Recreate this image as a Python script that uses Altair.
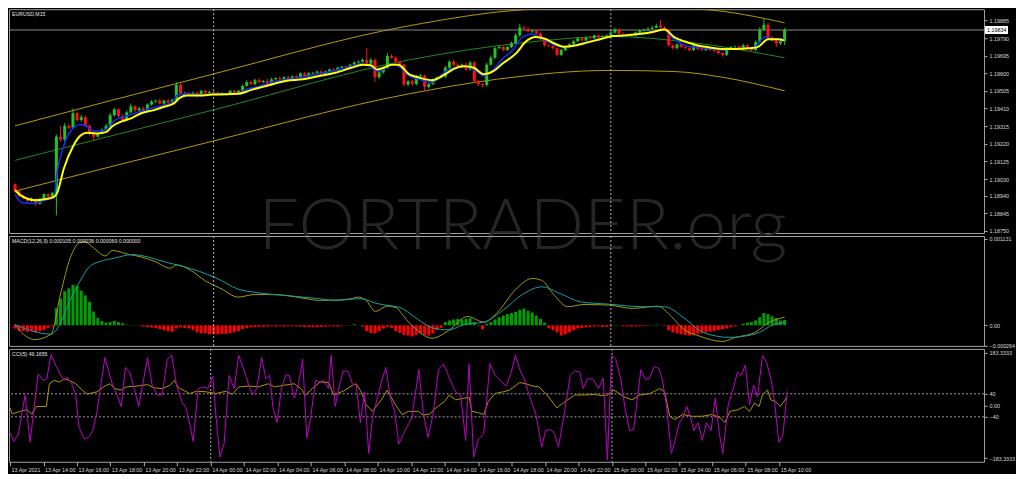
import altair as alt
import pandas as pd

W = 976
H_PRICE, H_MACD, H_CCI = 224, 110, 113
X_DOMAIN = [-0.25, 233]
FONT = "Liberation Sans, Arial, sans-serif"
LABEL = "#d8d8d8"
AX_FS = 5.4
TITLE_FS = 5.2

# ---------------- price (points above 1.18000, one M15 bar each) ----------------
closes = [
    965, 939, 928, 913, 923, 897, 923, 949, 934, 955,
    1259, 1243, 1317, 1306, 1385, 1348, 1364, 1317, 1275, 1259,
    1275, 1296, 1317, 1374, 1406, 1369, 1348, 1390, 1422, 1401,
    1411, 1401, 1432, 1448, 1453, 1437, 1453, 1443, 1458, 1537,
    1490, 1495, 1485, 1495, 1479, 1506, 1495, 1500, 1490, 1495,
    1485, 1490, 1506, 1495, 1506, 1532, 1553, 1542, 1563, 1553,
    1558, 1537, 1568, 1574, 1568, 1579, 1568, 1584, 1579, 1600,
    1584, 1600, 1603, 1610, 1595, 1610, 1621, 1616, 1631, 1637,
    1631, 1647, 1658, 1663, 1673, 1652, 1673, 1579, 1605, 1631,
    1694, 1684, 1663, 1647, 1540, 1558, 1542, 1584, 1589, 1527,
    1542, 1568, 1579, 1582, 1631, 1663, 1647, 1637, 1647, 1621,
    1658, 1558, 1542, 1537, 1647, 1684, 1736, 1742, 1726, 1742,
    1763, 1805, 1847, 1841, 1826, 1831, 1815, 1784, 1752, 1747,
    1736, 1700, 1726, 1742, 1757, 1773, 1789, 1778, 1794, 1789,
    1805, 1794, 1799, 1805, 1820, 1836, 1815, 1805, 1810, 1805,
    1820, 1831, 1836, 1841, 1847, 1857, 1847, 1836, 1752, 1736,
    1757, 1742, 1736, 1726, 1747, 1731, 1726, 1736, 1726, 1721,
    1710, 1700, 1731, 1742, 1745, 1731, 1752, 1736, 1726, 1768,
    1836, 1862, 1794, 1778, 1763, 1773, 1834]
opens = [
    1002, 965, 939, 928, 913, 923, 897, 923, 949, 934,
    955, 1259, 1243, 1317, 1306, 1385, 1348, 1364, 1317, 1275,
    1259, 1275, 1296, 1317, 1374, 1406, 1369, 1348, 1390, 1422,
    1401, 1411, 1401, 1432, 1448, 1453, 1437, 1453, 1443, 1458,
    1537, 1490, 1495, 1485, 1495, 1479, 1506, 1495, 1500, 1490,
    1495, 1485, 1490, 1506, 1495, 1506, 1532, 1553, 1542, 1563,
    1553, 1558, 1537, 1568, 1574, 1568, 1579, 1568, 1584, 1579,
    1600, 1584, 1600, 1603, 1610, 1595, 1610, 1621, 1616, 1631,
    1637, 1631, 1647, 1658, 1663, 1673, 1652, 1673, 1579, 1605,
    1631, 1694, 1684, 1663, 1647, 1540, 1558, 1542, 1584, 1589,
    1527, 1542, 1568, 1579, 1582, 1631, 1663, 1647, 1637, 1647,
    1621, 1658, 1558, 1542, 1537, 1647, 1684, 1736, 1742, 1726,
    1742, 1763, 1805, 1847, 1841, 1826, 1831, 1815, 1784, 1752,
    1747, 1736, 1700, 1726, 1742, 1757, 1773, 1789, 1778, 1794,
    1789, 1805, 1794, 1799, 1805, 1820, 1836, 1815, 1805, 1810,
    1805, 1820, 1831, 1836, 1841, 1847, 1857, 1847, 1836, 1752,
    1736, 1757, 1742, 1736, 1726, 1747, 1731, 1726, 1736, 1726,
    1721, 1710, 1700, 1731, 1742, 1745, 1731, 1752, 1736, 1726,
    1768, 1836, 1862, 1794, 1778, 1763, 1773]
upper_wicks = [
    5, 4, 6, 3, 8, 4, 6, 5, 4, 6,
    10, 60, 15, 10, 26, 9, 12, 6, 5, 8,
    6, 8, 10, 12, 8, 6, 10, 8, 15, 6,
    8, 10, 6, 8, 5, 10, 6, 8, 5, 16,
    5, 6, 4, 8, 6, 5, 4, 6, 4, 5,
    5, 4, 6, 4, 5, 8, 10, 8, 8, 10,
    6, 12, 8, 6, 10, 6, 8, 6, 8, 5,
    6, 8, 5, 6, 8, 6, 5, 8, 6, 5,
    6, 5, 8, 6, 8, 63, 10, 6, 8, 6,
    16, 10, 8, 6, 5, 6, 8, 8, 6, 5,
    6, 5, 6, 8, 10, 8, 10, 8, 6, 12,
    10, 8, 5, 6, 10, 12, 8, 10, 6, 5,
    8, 12, 21, 10, 8, 6, 5, 6, 5, 4,
    5, 4, 6, 5, 6, 5, 6, 5, 4, 6,
    5, 4, 6, 5, 8, 10, 6, 5, 4, 5,
    6, 5, 6, 8, 10, 12, 31, 8, 6, 5,
    4, 5, 4, 5, 6, 4, 5, 4, 5, 4,
    5, 4, 6, 5, 4, 5, 8, 5, 4, 10,
    12, 37, 10, 6, 5, 6, 10]
lower_wicks = [
    8, 6, 8, 10, 6, 12, 5, 6, 8, 10,
    121, 12, 10, 8, 6, 10, 8, 6, 10, 21,
    6, 5, 6, 5, 8, 6, 8, 5, 6, 10,
    6, 8, 5, 6, 8, 5, 6, 5, 8, 5,
    8, 6, 5, 6, 10, 5, 6, 4, 6, 5,
    6, 5, 4, 5, 4, 6, 5, 6, 5, 6,
    5, 8, 5, 6, 5, 6, 8, 5, 6, 5,
    8, 5, 6, 5, 8, 6, 5, 6, 5, 6,
    5, 6, 5, 6, 5, 8, 6, 26, 8, 6,
    6, 5, 8, 6, 11, 10, 8, 6, 5, 21,
    8, 6, 5, 6, 5, 6, 8, 6, 5, 8,
    6, 10, 10, 12, 8, 5, 6, 5, 8, 5,
    6, 5, 8, 6, 5, 8, 6, 5, 8, 6,
    8, 10, 6, 5, 4, 5, 4, 6, 5, 4,
    5, 6, 4, 5, 4, 5, 8, 6, 5, 6,
    5, 4, 5, 4, 5, 4, 5, 6, 10, 8,
    6, 5, 8, 6, 5, 6, 5, 6, 5, 6,
    8, 10, 6, 5, 6, 5, 6, 5, 6, 5,
    6, 5, 8, 6, 20, 10, 20]

# moving averages / channel (bar position, points above 1.18000)
blue_bar = [0, 1.6, 4.8, 7.1, 9.4, 10.2, 11.8, 14.1, 15.7, 17.3, 18.8, 21.2, 22.7, 24.3, 26.6, 29.0, 31.3, 33.6, 36.0, 38.3,
            39.1, 41.5, 44.6, 47.7, 50.8, 54.0, 55.5, 58.6, 61.8, 65.7, 69.6, 73.5, 77.4, 81.3, 83.6, 85.2, 86.7, 88.3, 89.9, 91.4,
            93.0, 95.3, 97.7, 100.8, 103.1, 105.5, 108.6, 110.9, 113.3, 115.6, 118.0, 120.3, 122.6, 125.0, 127.3, 129.7, 132.0,
            135.1, 138.2, 141.4, 144.5, 147.6, 150.7, 153.9, 157.0, 158.6, 160.9, 163.2, 167.1, 171.0, 172.6, 175.7, 178.8,
            181.2, 183.5, 185.9]
blue_pts = [948, 904, 898, 916, 930, 1070, 1210, 1306, 1324, 1315, 1289, 1289, 1315, 1350, 1367, 1385, 1402, 1416, 1428, 1451,
            1481, 1490, 1484, 1490, 1490, 1493, 1511, 1528, 1551, 1568, 1581, 1598, 1616, 1638, 1652, 1647, 1621, 1612, 1638, 1652,
            1634, 1586, 1568, 1551, 1595, 1626, 1638, 1621, 1586, 1621, 1682, 1726, 1796, 1813, 1787, 1761, 1743,
            1752, 1770, 1784, 1801, 1808, 1813, 1826, 1836, 1796, 1761, 1743, 1735, 1726, 1731, 1735, 1743,
            1796, 1787, 1787]
yellow_bar = [0, 1.6, 4.8, 7.1, 9.4, 10.2, 11.8, 14.1, 15.7, 17.3, 19.6, 22.0, 23.5, 25.8, 28.2, 30.5, 33.6, 36.0, 38.3, 39.9,
              41.5, 44.6, 47.7, 54.0, 57.1, 61.8, 65.7, 69.6, 73.5, 77.4, 81.3, 84.0, 86.0, 87.5, 89.1, 91.0, 92.6, 95.3, 97.7,
              100.8, 103.9, 106.2, 108.6, 110.9, 113.3, 115.6, 118.0, 121.1, 123.4, 125.8, 128.1, 130.4, 132.8, 135.1, 138.2,
              141.4, 144.5, 147.6, 150.7, 153.9, 157.0, 159.3, 161.7, 164.8, 167.9, 171.0, 174.2, 177.3, 179.6, 182.0, 184.3, 185.9]
yellow_pts = [970, 939, 916, 921, 934, 956, 1087, 1210, 1262, 1280, 1276, 1283, 1315, 1341, 1359, 1385, 1402, 1420, 1437, 1469,
              1481, 1481, 1486, 1490, 1511, 1539, 1560, 1568, 1586, 1603, 1630, 1647, 1644, 1621, 1630, 1647, 1647, 1595, 1577,
              1563, 1595, 1626, 1638, 1630, 1595, 1612, 1656, 1708, 1770, 1796, 1787, 1761, 1743, 1749, 1766,
              1784, 1801, 1805, 1812, 1822, 1836, 1796, 1773, 1752, 1740, 1731, 1731, 1735, 1743, 1784, 1784, 1778]
chan_up_bar = [0, 46.1, 95.3, 121, 144.5, 166.7, 186]
chan_up_pts = [1317, 1586, 1857, 1940, 1960, 1944, 1873]
chan_lo_bar = [0, 46.1, 95.3, 116.4, 143.8, 159.3, 171, 186]
chan_lo_pts = [965, 1225, 1490, 1568, 1616, 1610, 1579, 1506]
chan_mid_bar = [0, 48.5, 95.3, 124, 143.8, 163, 186]
chan_mid_pts = [1131, 1406, 1673, 1768, 1799, 1768, 1684]

# ---------------- MACD (millionths) ----------------
macd_hist = [
    -42, -76, -76, -84, -76, -93, -76, -63, -34, -13,
    223, 349, 446, 484, 530, 518, 455, 392, 307, 181,
    97, 55, 34, 42, 59, 42, 25, 8, 4, 4,
    -4, -17, -21, -29, -34, -51, -63, -76, -84, -42,
    -25, -34, -42, -63, -93, -105, -105, -118, -118, -118,
    -114, -114, -105, -93, -76, -51, -34, -25, -25, -21,
    -21, -17, -13, -17, -13, -17, -13, -13, -13, -17,
    -21, -21, -25, -25, -21, -17, -13, -13, -17, -8,
    -4, 4, 13, 4, -17, -76, -101, -105, -76, -42,
    -21, -34, -76, -101, -126, -135, -147, -126, -105, -126,
    -135, -105, -63, -34, 42, 63, 76, 84, 76, 84,
    93, 42, -8, -51, 21, 42, 76, 105, 126, 147,
    160, 177, 202, 219, 189, 168, 126, 84, 34, -34,
    -63, -93, -135, -118, -93, -63, -42, -34, -25, -21,
    -17, -13, -21, -21, -17, 4, 4, -13, -13, -17,
    -13, -13, -8, -8, 4, 8, 4, -8, -63, -93,
    -105, -118, -126, -135, -126, -109, -101, -93, -84, -76,
    -63, -51, -42, -25, -13, -4, 21, 34, 42, 63,
    105, 160, 147, 118, 93, 63, 69]
macd_bar = [0, 1.6, 4.8, 8.7, 11, 13.3, 15.7, 16.9, 18.8, 21.9, 23.5, 27.4, 30.5, 33.6, 37.6, 39.1, 42.2, 46.1, 50, 53.9,
            57.8, 61.8, 65.7, 70.3, 73.5, 77.4, 81.3, 82.8, 84.8, 87.1, 89.9, 92.2, 93.5, 95.3, 96.1, 100.8, 104.7, 109.4,
            113.3, 116.4, 121.1, 125, 127.3, 130.4, 133.6, 137.5, 143.7, 149.2, 155.4, 158.6, 161.7, 165.6, 171, 174.2,
            178.8, 182, 186]
macd_main = [10, -95, -187, -116, 410, 875, 1085, 1093, 1021, 908, 980, 929, 895, 840, 748, 790, 727, 579, 474, 369,
             402, 402, 389, 348, 326, 330, 348, 369, 330, 180, 250, 230, 150, 30, -10, -170, -73, 116,
             40, 158, 474, 613, 588, 389, 243, 272, 263, 221, 250, 116, -53, -145, -212, -158,
             -95, 32, 105]
signal_bar = [0, 4, 8.7, 11, 13.3, 15.7, 18, 20.4, 24.3, 28.2, 32.1, 36, 40.7, 44.6, 48.5, 53.9, 57.8, 65.7, 73.5, 77.4,
              83.6, 87.5, 91.4, 93, 96.9, 100.8, 104.7, 108.6, 113.3, 118, 122.6, 127.3, 132, 136.7, 143.7, 151.5, 157,
              161.7, 166.4, 172.6, 178.8, 183.5, 186]
signal_vals = [10, -73, -116, 32, 326, 579, 769, 832, 882, 925, 895, 832, 769, 705, 622, 474, 432, 389, 348, 326,
               348, 284, 250, 234, 95, -32, -60, 10, 40, 200, 402, 503, 410, 306, 276, 243, 243,
               95, -95, -158, -116, 10, 36]

# ---------------- CCI(5) ----------------
cci_bar = [0, 0.9, 2.0, 3.6, 4.8, 6.7, 7.9, 8.8, 9.8, 11.0, 12.2, 13.0, 13.7, 14.9, 15.7, 16.5, 17.8, 18.8, 19.8, 20.8,
           22.7, 24.3, 25.6, 26.6, 27.6, 28.6, 29.7, 30.8, 32.9, 34.0, 35.2, 36.4, 37.6, 38.7, 39.9, 41.1, 42.1, 43.0, 43.8, 45.0,
           46.1, 47.3, 48.5, 49.3, 50.2, 51.2, 52.4, 53.6, 54.7, 55.9, 57.1, 58.0, 59.0, 60.2, 61.2, 62.1, 62.9, 63.9, 64.9, 66.0,
           66.8, 68.0, 69.0, 70.0, 71.0, 71.9, 73.1, 74.2, 75.0, 76.2, 76.8, 77.8, 78.8, 79.7, 80.9, 81.9, 82.8, 83.8, 84.8, 85.8,
           86.7, 88.7, 89.9, 91.0, 92.0, 93.0, 94.5, 96.1, 97.8, 98.8, 100.0, 101.2, 102.5, 103.7, 105.5, 106.6, 107.8, 109.0,
           109.8, 110.9, 112.1, 113.3, 114.8, 116.0, 118.7, 119.9, 120.9, 121.9, 123.0, 124.2, 125.8, 127.2, 128.1, 129.3,
           130.3, 131.2, 132.4, 134.0, 135.1, 136.3, 137.1, 138.1, 139.4, 140.8, 141.9, 142.9, 143.9, 144.9, 146.1, 147.1,
           148.2, 149.2, 150.9, 151.9, 152.9, 154.1, 155.2, 156.0, 157.0, 158.2, 158.9, 160.1, 160.9, 161.9, 162.8, 163.6,
           164.6, 165.6, 166.6, 167.7, 168.7, 169.7, 170.5, 171.8, 173.0, 174.0, 174.9, 175.9, 176.9, 177.9, 178.8, 180.0,
           181.0, 182.0, 182.9, 183.9, 184.9, 185.9]
cci_vals = [-94, -125, -100, 36, -128, 109, 87, 92, 177, 137, 104, 87, 98, 70, 36, -77, -117, -111, -88, -21,
            166, 81, 36, -4, 132, 115, 58, -4, 166, 70, 36, 36, 160, 173, 64, 13, -9, -66, -125, 58,
            64, 58, 101, -43, -180, -134, 104, 58, 173, 126, 70, 36, 58, 166, 92, 104, -9, -60, 58, 106,
            104, 25, 75, 160, -113, -43, 87, 81, 87, 58, 173, -4, 70, 120, 117, 75, 70, -60, 47, -167,
            -43, 75, 132, 25, -21, -134, -88, -43, 124, -21, -111, -32, 126, 143, 81, 47, 36, -122,
            143, -180, -117, -100, 145, 104, 67, 115, 175, 126, 92, 36, -32, -145, -88, -83,
            -100, -145, -43, 104, 120, 115, 58, 92, 92, 58, 95, -190, 173, 160, 92, -9,
            -88, -83, 124, 92, 92, 135, 128, 92, 2, -167, -134, -60, -43, -4, -43, -88,
            -60, -122, -60, -88, 25, -100, -167, 2, 58, 115, 104, 140, 2, 70, 30, 173,
            149, 92, 13, -128, -105, 49]
cci_ma_bar = [0, 0.5, 2.4, 4.0, 5.2, 6.3, 8.7, 9.4, 10.6, 11.8, 13.0, 14.1, 15.7, 17.3, 18.4, 20.8, 22.7, 23.9, 25.1, 26.6,
              27.8, 30.5, 32.9, 34.4, 36.4, 38.3, 39.3, 40.3, 43.0, 44.6, 46.9, 49.3, 51.6, 53.2, 54.7, 57.1, 59.4, 61.8, 63.3, 65.7,
              68.0, 69.6, 70.7, 72.3, 74.2, 76.2, 77.4, 79.7, 82.0, 82.8, 84.0, 85.2, 86.7, 89.1, 90.2, 92.2, 93.8, 95.3, 97.7, 98.8,
              100.4, 102.3, 103.9, 105.1, 106.6, 108.6, 109.8, 110.5, 112.1, 113.3, 114.4, 116.0, 118.0, 119.5, 121.9, 123.4,
              125.0, 126.5, 128.5, 130.8, 132.8, 135.1, 137.5, 139.8, 141.4, 142.9, 144.5, 146.8, 148.8, 150.7, 153.1, 155.4,
              156.6, 157.8, 159.0, 160.9, 163.2, 165.6, 167.9, 169.9, 171.0, 172.2, 174.2, 175.7, 176.9, 178.1, 179.2, 180.0,
              181.2, 182.0, 183.1, 184.3, 185.9]
cci_ma_vals = [-9, -30, -21, -15, -30, -4, -4, 75, 87, 81, 92, 87, 75, 53, 39, 47, 67, 75, 58, 53,
               64, 67, 72, 61, 58, 70, 87, 61, 41, 49, 47, 41, 49, 38, 64, 67, 64, 75, 64, 70,
               75, 58, 36, 58, 81, 79, 36, 49, 70, 75, 47, 2, -21, 25, 53, 2, -32, -21, -21, -34,
               -30, -4, 13, 36, 19, 25, 28, -21, -26, -32, 13, 41, 47, 53, 79, 75,
               67, 64, 36, -9, 13, 36, 36, 38, 34, 36, 53, 30, 19, 36, 41, 58,
               47, -38, -49, -32, -38, -38, -32, -43, -60, -21, -15, -4, -21, 8, -4, 36,
               53, 19, 13, -4, 30]

# ---------------- labels ----------------
price_ticks = [1.18750, 1.18845, 1.18940, 1.19030, 1.19125, 1.19220, 1.19315, 1.19410,
               1.19505, 1.19600, 1.19695, 1.19790, 1.19885]
macd_ticks = [0.001131, 0.0, -0.000264]
cci_ticks = [183.3333, 40, 0, -40, -183.3333]
cci_levels = [40, -40]
time_labels = ["13 Apr 2021", "13 Apr 14:00", "13 Apr 16:00", "13 Apr 18:00", "13 Apr 20:00", "13 Apr 22:00",
               "14 Apr 00:00", "14 Apr 02:00", "14 Apr 04:00", "14 Apr 06:00", "14 Apr 08:00", "14 Apr 10:00",
               "14 Apr 12:00", "14 Apr 14:00", "14 Apr 16:00", "14 Apr 18:00", "14 Apr 20:00", "14 Apr 22:00",
               "15 Apr 00:00", "15 Apr 02:00", "15 Apr 04:00", "15 Apr 06:00", "15 Apr 08:00", "15 Apr 10:00"]
session_breaks = [48, 144]
current_price = 1.19834

# ---------------- data frames ----------------
BASE = 1.18
candles = pd.DataFrame({
    "bar": list(range(len(closes))),
    "open": [BASE + v / 1e5 for v in opens],
    "close": [BASE + v / 1e5 for v in closes],
    "high": [BASE + (max(o, c) + u) / 1e5 for o, c, u in zip(opens, closes, upper_wicks)],
    "low": [BASE + (min(o, c) - l) / 1e5 for o, c, l in zip(opens, closes, lower_wicks)],
    "bull": [c >= o for o, c in zip(opens, closes)],
})


def price_line(bars, pts):
    return pd.DataFrame({"bar": bars, "price": [BASE + p / 1e5 for p in pts]})


hist_df = pd.DataFrame({"bar": list(range(len(macd_hist))), "v": [h * 1e-6 for h in macd_hist]})
macd_df = pd.DataFrame({"bar": macd_bar, "v": [m * 1e-6 for m in macd_main]})
signal_df = pd.DataFrame({"bar": signal_bar, "v": [s * 1e-6 for s in signal_vals]})
cci_df = pd.DataFrame({"bar": cci_bar, "v": cci_vals})
ccima_df = pd.DataFrame({"bar": cci_ma_bar, "v": cci_ma_vals})
breaks_df = pd.DataFrame({"bar": session_breaks})
levels_df = pd.DataFrame({"v": cci_levels})

xs = alt.Scale(domain=X_DOMAIN, nice=False, zero=False)
ps = alt.Scale(domain=[1.18739, 1.19946], nice=False, zero=False)
ms = alt.Scale(domain=[-0.000270, 0.001169], nice=False, zero=False)
cs = alt.Scale(domain=[-196, 196], nice=False, zero=False)

axis_common = dict(orient="right", title=None, labelFontSize=AX_FS, labelColor=LABEL, labelFont=FONT,
                   tickColor="#b0b0b0", tickSize=3, domain=False, grid=False, labelPadding=2,
                   labelOverlap=False)
price_axis = alt.Axis(values=price_ticks, format=".5f", **axis_common)
macd_axis = alt.Axis(values=macd_ticks,
                     labelExpr="datum.value == 0 ? '0.00' : format(datum.value, '.6f')", **axis_common)
cci_axis = alt.Axis(values=cci_ticks,
                    labelExpr="datum.value == 0 ? '0.00' : (abs(datum.value) > 100 ? format(datum.value, '.4f') : format(datum.value, 'd'))",
                    **axis_common)
label_js = "[" + ",".join("'%s'" % s for s in time_labels) + "]"
time_axis = alt.Axis(
    orient="bottom", values=list(range(0, 8 * len(time_labels), 8)),
    labelExpr=label_js + "[round(datum.value / 8)]",
    title=None, labelFontSize=AX_FS, labelColor=LABEL, labelFont=FONT, labelAlign="left",
    labelOverlap=False, labelPadding=2, tickColor="#b0b0b0", tickSize=4, domain=False, grid=False,
    labelBound=False, labelOffset=1)

XP = alt.X("bar:Q", scale=xs, axis=None)          # upper panels: no x axis
XB = alt.X("bar:Q", scale=xs, axis=time_axis)     # bottom panel


def YP(field):
    return alt.Y(field, scale=ps, axis=price_axis)


def YM(field):
    return alt.Y(field, scale=ms, axis=macd_axis)


def YC(field):
    return alt.Y(field, scale=cs, axis=cci_axis)


GREEN, RED = "#22c322", "#ff1010"


def title_text(txt):
    return alt.Chart(pd.DataFrame({"t": [txt]})).mark_text(
        align="left", baseline="top", font=FONT, fontSize=TITLE_FS, color="#e6e6e6"
    ).encode(x=alt.value(3), y=alt.value(3), text="t:N")


def breaks_layer(xenc):
    return alt.Chart(breaks_df).mark_rule(color="#b4b4b4", strokeDash=[2, 2], strokeWidth=1).encode(x=xenc)


# ---------------- price panel ----------------
watermark = alt.Chart(pd.DataFrame({"t": ["FORTRADER.org"]})).mark_text(
    font="Lato", fontSize=72, fontWeight=300, color="#262626", align="center", baseline="middle"
).encode(x=alt.value(W * 0.527), y=alt.value(218), text="t:N")

chan_up = alt.Chart(price_line(chan_up_bar, chan_up_pts)).mark_line(
    color="#b89a00", strokeWidth=1, interpolate="monotone", clip=True).encode(x=XP, y=YP("price:Q"))
chan_lo = alt.Chart(price_line(chan_lo_bar, chan_lo_pts)).mark_line(
    color="#b89a00", strokeWidth=1, interpolate="monotone", clip=True).encode(x=XP, y=YP("price:Q"))
chan_mid = alt.Chart(price_line(chan_mid_bar, chan_mid_pts)).mark_line(
    color="#1f8a1f", strokeWidth=1, interpolate="monotone", clip=True).encode(x=XP, y=YP("price:Q"))

cur_df = pd.DataFrame({"price": [current_price], "label": ["1.19834"]})
cur_line = alt.Chart(cur_df).mark_rule(color="#8c8c8c", strokeWidth=1).encode(y=YP("price:Q"))

candle_color = alt.condition("datum.bull", alt.value(GREEN), alt.value(RED))
wicks = alt.Chart(candles).mark_rule(strokeWidth=1).encode(
    x=XP, y=YP("low:Q"), y2="high:Q", color=candle_color)
bodies = alt.Chart(candles).mark_bar(size=3).encode(
    x=XP, y=YP("open:Q"), y2="close:Q", color=candle_color)

blue_ma = alt.Chart(price_line(blue_bar, blue_pts)).mark_line(
    color="#1030ff", strokeWidth=1.5, interpolate="monotone", clip=True).encode(x=XP, y=YP("price:Q"))
yellow_ma = alt.Chart(price_line(yellow_bar, yellow_pts)).mark_line(
    color="#ffff00", strokeWidth=2, interpolate="monotone", clip=True).encode(x=XP, y=YP("price:Q"))

box = alt.Chart(cur_df).mark_rule(color="#ffffff", strokeWidth=8).encode(
    x=alt.value(W + 1), x2=alt.value(W + 24), y=YP("price:Q"))
box_text = alt.Chart(cur_df).mark_text(
    align="left", baseline="middle", font=FONT, fontSize=AX_FS, color="#000000"
).encode(x=alt.value(W + 3), y=YP("price:Q"), text="label:N")

price_panel = alt.layer(
    watermark, chan_up, chan_lo, chan_mid, cur_line, breaks_layer(XP), wicks, bodies,
    blue_ma, yellow_ma, box, box_text, title_text("EURUSD,M15")
).properties(width=W, height=H_PRICE)

# ---------------- MACD panel ----------------
hist = alt.Chart(hist_df).mark_bar(size=3).encode(
    x=XP, y=YM("v:Q"), y2=alt.datum(0),
    color=alt.condition("datum.v >= 0", alt.value("#009e00"), alt.value("#ff0000")),
)
macd_line = alt.Chart(macd_df).mark_line(color="#a09a00", strokeWidth=1, interpolate="monotone", clip=True).encode(
    x=XP, y=YM("v:Q"))
signal_line = alt.Chart(signal_df).mark_line(color="#10a0a8", strokeWidth=1, interpolate="monotone", clip=True).encode(
    x=XP, y=YM("v:Q"))
macd_panel = alt.layer(
    hist, macd_line, signal_line, breaks_layer(XP),
    title_text("MACD(12,26,9) 0.000105 0.000036 0.000069 0.000000")
).properties(width=W, height=H_MACD)

# ---------------- CCI panel ----------------
levels = alt.Chart(levels_df).mark_rule(color="#a0a0a0", strokeDash=[2, 2], strokeWidth=1).encode(y=YC("v:Q"))
cci_ma = alt.Chart(ccima_df).mark_line(color="#b09400", strokeWidth=1, clip=True).encode(x=XB, y=YC("v:Q"))
cci_line = alt.Chart(cci_df).mark_line(color="#c000c8", strokeWidth=1, clip=True).encode(x=XB, y=YC("v:Q"))
cci_panel = alt.layer(
    levels, breaks_layer(XB), cci_ma, cci_line, title_text("CCI(5) 49.1655")
).properties(width=W, height=H_CCI)

chart = alt.vconcat(price_panel, macd_panel, cci_panel, spacing=3, bounds="flush").properties(
    padding={"left": 0, "top": 0, "right": 0, "bottom": 0}
).configure(background="#000000").configure_view(stroke="#a0a0a0", strokeWidth=1)

chart.save("out.html", embed_options={"renderer": "svg", "actions": False})
